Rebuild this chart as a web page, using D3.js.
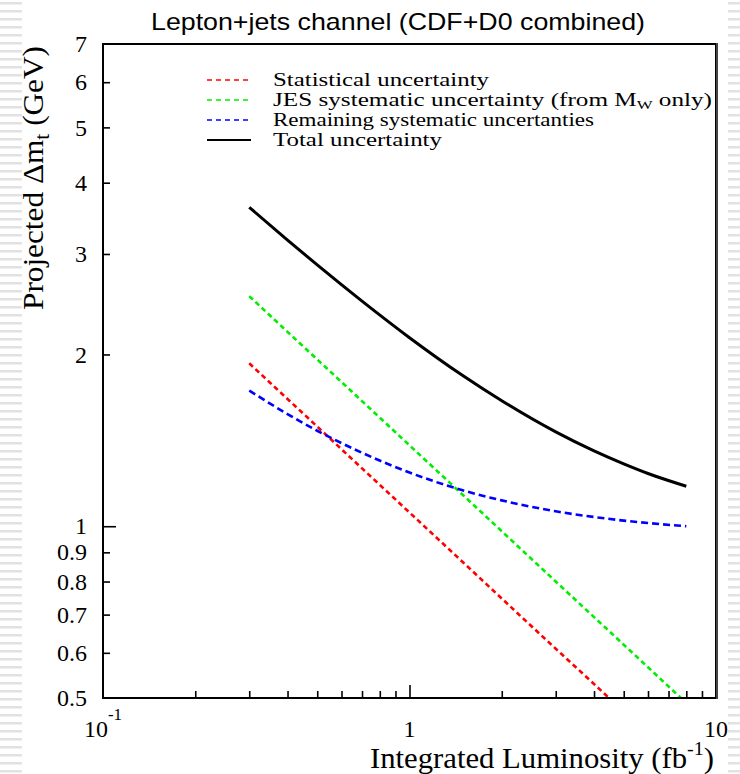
<!DOCTYPE html>
<html>
<head>
<meta charset="utf-8">
<script src="https://cdn.jsdelivr.net/npm/d3@7"></script>
<style>
  html, body { margin: 0; padding: 0; background: #fff; }
  svg { display: block; }
</style>
</head>
<body>
<svg id="chart" width="740" height="774"></svg>
<script>
// Integrated luminosity points (fb^-1)
const lumi = [0.3, 0.4, 0.5, 0.7, 1, 1.5, 2, 3, 4, 5, 6, 8];
// Projected uncertainties on the top mass (GeV)
const statUnc   = [1.930, 1.671, 1.495, 1.263, 1.057, 0.863, 0.747, 0.610, 0.529, 0.473, 0.432, 0.374];
const jesUnc    = [2.531, 2.191, 1.960, 1.657, 1.386, 1.132, 0.980, 0.800, 0.693, 0.620, 0.566, 0.490];
const remainUnc = [1.729, 1.572, 1.470, 1.345, 1.242, 1.155, 1.110, 1.062, 1.038, 1.023, 1.013, 1.000];
const totalUnc  = [3.622, 3.173, 2.870, 2.480, 2.140, 1.833, 1.659, 1.463, 1.355, 1.286, 1.237, 1.175];

const seriesNames  = ["Statistical uncertainty",
                      "JES systematic uncertainty (from M_W only)",
                      "Remaining systematic uncertanties",
                      "Total uncertainty"];
const seriesColors = ["#ff0000", "#00ee00", "#0000ff", "#000000"];
const seriesValues = [statUnc, jesUnc, remainUnc, totalUnc];

// Axis ticks
const xMinorTicks = [0.2, 0.3, 0.4, 0.5, 0.6, 0.7, 0.8, 0.9, 2, 3, 4, 5, 6, 7, 8, 9];
const xMajorTicks = [1];
const yMinorTicks = [0.6, 0.7, 0.8, 0.9, 2, 3, 4, 5, 6];
const yMajorTicks = [1];
const yTickLabels = [0.5, 0.6, 0.7, 0.8, 0.9, 1, 2, 3, 4, 5, 6, 7];

const svg = d3.select("#chart");
const W = 740, H = 774;
const margin = { left: 103, right: 24, top: 44, bottom: 76 };
const x0 = margin.left, x1 = W - margin.right;
const y0 = margin.top,  y1 = H - margin.bottom;

// Decorative striped slide edges
const stripes = svg.append("g").attr("fill", "#e2e2e2");
for (let y = 2; y < H; y += 8) {
  stripes.append("rect").attr("x", 0).attr("y", y).attr("width", 22).attr("height", 2.5);
  stripes.append("rect").attr("x", 728).attr("y", y).attr("width", 12).attr("height", 2.5);
}

const x = d3.scaleLog().domain([0.1, 10]).range([x0, x1]);
const y = d3.scaleLog().domain([0.5, 7]).range([y1, y0]);

const serif = "'Liberation Serif', 'Times New Roman', serif";
const sans  = "'Liberation Sans', Arial, sans-serif";

// Title
svg.append("text")
  .attr("x", 398).attr("y", 30)
  .attr("text-anchor", "middle")
  .attr("font-family", sans).attr("font-size", 24)
  .attr("textLength", 494).attr("lengthAdjust", "spacingAndGlyphs")
  .text("Lepton+jets channel (CDF+D0 combined)");

// Clip for curves
svg.append("clipPath").attr("id", "plotClip")
  .append("rect").attr("x", x0).attr("y", y0).attr("width", x1 - x0).attr("height", y1 - y0);

// Curves
const line = d3.line()
  .x(d => x(d[0]))
  .y(d => y(d[1]))
  .curve(d3.curveMonotoneX);

const curves = svg.append("g").attr("clip-path", "url(#plotClip)");
seriesValues.forEach((vals, i) => {
  const pts = lumi.map((l, j) => [l, vals[j]]);
  curves.append("path")
    .attr("d", line(pts))
    .attr("fill", "none")
    .attr("stroke", seriesColors[i])
    .attr("stroke-width", i === 3 ? 3 : 2.6)
    .attr("stroke-dasharray", i === 3 ? null : (i === 2 ? "7,4" : "5,3.5"));
});

// Axes (ticks pointing into the frame)
const axisStyle = g => {
  g.select(".domain").remove();
  g.selectAll(".tick line").attr("stroke", "#000").attr("stroke-width", 1.6);
};

svg.append("g").attr("transform", `translate(0,${y1})`)
  .call(d3.axisBottom(x).tickValues(xMinorTicks).tickSize(-7).tickFormat(""))
  .call(axisStyle);
svg.append("g").attr("transform", `translate(0,${y1})`)
  .call(d3.axisBottom(x).tickValues(xMajorTicks).tickSize(-13).tickFormat(""))
  .call(axisStyle);
svg.append("g").attr("transform", `translate(${x0},0)`)
  .call(d3.axisLeft(y).tickValues(yMinorTicks).tickSize(-7).tickFormat(""))
  .call(axisStyle);
svg.append("g").attr("transform", `translate(${x0},0)`)
  .call(d3.axisLeft(y).tickValues(yMajorTicks).tickSize(-13).tickFormat(""))
  .call(axisStyle);

// Y tick labels
const yLab = svg.append("g")
  .attr("font-family", serif).attr("font-size", 24).attr("text-anchor", "end");
yTickLabels.forEach(v => {
  yLab.append("text")
    .attr("x", x0 - 16).attr("y", y(v))
    .attr("dy", "0.34em")
    .text(d3.format("~g")(v));
});

// X tick labels (decades)
const xLab = svg.append("g")
  .attr("font-family", serif).attr("font-size", 24).attr("text-anchor", "middle");
const t01 = xLab.append("text").attr("x", x(0.1)).attr("y", 737);
t01.append("tspan").text("10");
t01.append("tspan").attr("font-size", 17).attr("dy", -17).text("-1");
xLab.append("text").attr("x", x(1)).attr("y", 737).text("1");
xLab.append("text").attr("x", x(10)).attr("y", 737).text("10");

// Frame
svg.append("rect")
  .attr("x", x0).attr("y", y0).attr("width", x1 - x0).attr("height", y1 - y0)
  .attr("fill", "none").attr("stroke", "#000").attr("stroke-width", 2);
svg.append("line")
  .attr("x1", x1 + 1).attr("x2", x1 + 1).attr("y1", y0 - 1).attr("y2", y1 + 1)
  .attr("stroke", "#444").attr("stroke-width", 2);

// Axis titles
const xt = svg.append("text")
  .attr("x", 370).attr("y", 768)
  .attr("text-anchor", "start")
  .attr("font-family", serif).attr("font-size", 29)
  .attr("textLength", 344).attr("lengthAdjust", "spacingAndGlyphs");
xt.append("tspan").text("Integrated Luminosity (fb");
xt.append("tspan").attr("font-size", 19).attr("dy", -13).text("-1");
xt.append("tspan").attr("dy", 13).text(")");

const yt = svg.append("text")
  .attr("transform", "translate(43,310) rotate(-90)")
  .attr("text-anchor", "start")
  .attr("font-family", serif).attr("font-size", 29)
  .attr("textLength", 264).attr("lengthAdjust", "spacingAndGlyphs");
yt.append("tspan").text("Projected \u0394m");
yt.append("tspan").attr("font-size", 20).attr("dy", 6).text("t");
yt.append("tspan").attr("dy", -6).text(" (GeV)");

// Legend
const legend = svg.append("g").attr("font-family", serif).attr("font-size", 19.5);
const legendY = [80, 100, 120, 140];
const legendWidths = [216, 439, 321, 169];
seriesNames.forEach((name, i) => {
  const ly = legendY[i];
  legend.append("line")
    .attr("x1", 207).attr("x2", 251).attr("y1", ly).attr("y2", ly)
    .attr("stroke", seriesColors[i])
    .attr("stroke-width", i === 3 ? 1.8 : 1.4)
    .attr("stroke-dasharray", i === 3 ? null : "5,4");
  const t = legend.append("text").attr("x", 273).attr("y", ly).attr("dy", "0.32em")
    .attr("textLength", legendWidths[i]).attr("lengthAdjust", "spacingAndGlyphs");
  if (name.includes("M_W")) {
    const [pre, post] = name.split("M_W");
    t.append("tspan").text(pre + "M");
    t.append("tspan").attr("font-size", 13).attr("dy", 3).text("W");
    t.append("tspan").attr("dy", -3).text(post);
  } else {
    t.text(name);
  }
});
</script>
</body>
</html>
